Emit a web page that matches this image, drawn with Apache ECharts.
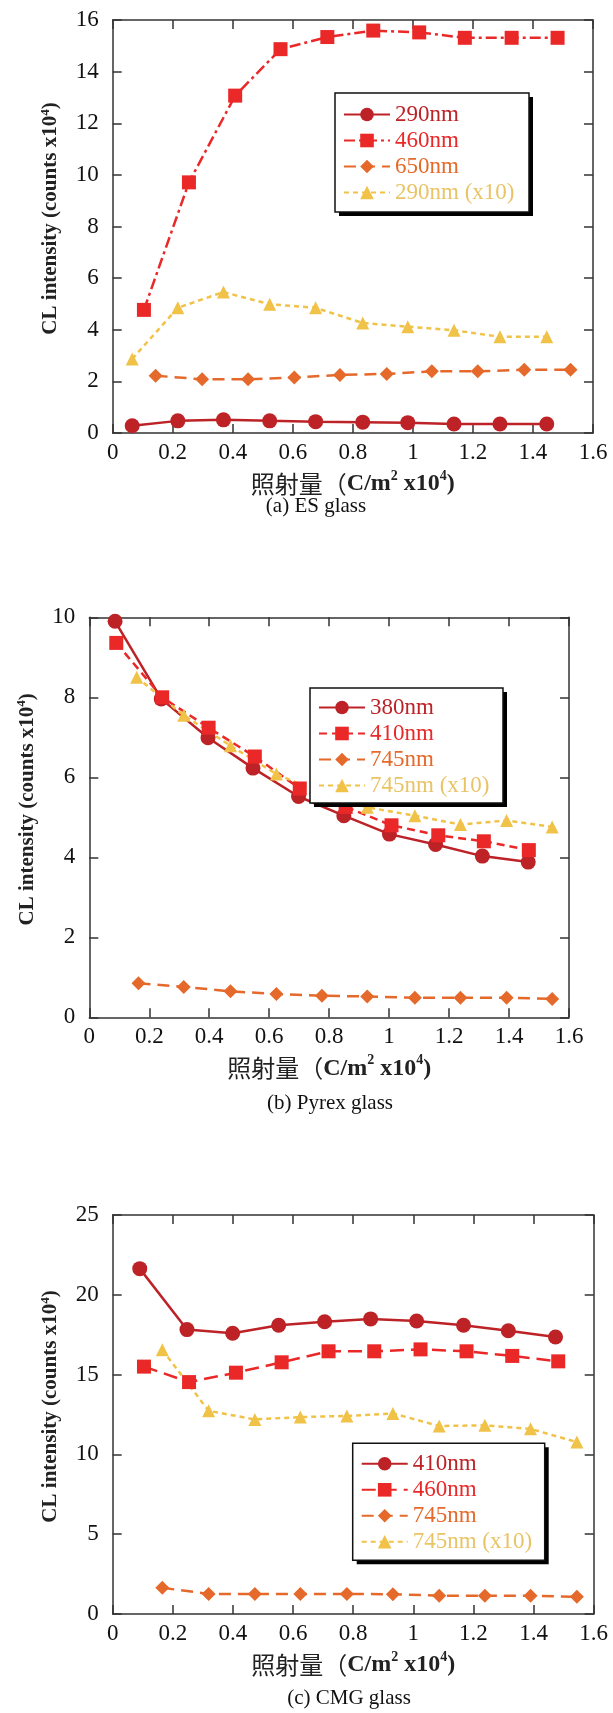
<!DOCTYPE html>
<html><head><meta charset="utf-8">
<script src="https://cdn.jsdelivr.net/npm/echarts@6/dist/echarts.min.js"></script>
<style>
html,body{margin:0;padding:0;background:#fff;}
.c{position:absolute;left:0;width:613px;}
#c1{top:0;height:560px}
#c2{top:560px;height:575px}
#c3{top:1135px;height:578px}
</style></head><body>
<div id="c1" class="c"></div><div id="c2" class="c"></div><div id="c3" class="c"></div>
<script>
// ---------- tick labels ----------
const xTickLabels = ['0','0.2','0.4','0.6','0.8','1','1.2','1.4','1.6'];
const esYTicks = ['0','2','4','6','8','10','12','14','16'];
const pyYTicks = ['0','2','4','6','8','10'];
const cmYTicks = ['0','5','10','15','20','25'];

// ---------- (a) ES glass ----------
const esNames = ['290nm','460nm','650nm','290nm (x10)'];
const es290_x = [0.065,0.217,0.369,0.523,0.676,0.833,0.983,1.137,1.290,1.446];
const es290_y = [0.28,0.47,0.51,0.47,0.44,0.42,0.40,0.35,0.35,0.35];
const es460_x = [0.104,0.254,0.408,0.559,0.715,0.868,1.021,1.173,1.329,1.482];
const es460_y = [4.77,9.71,13.07,14.87,15.34,15.59,15.52,15.31,15.31,15.31];
const es650_x = [0.143,0.298,0.451,0.605,0.757,0.913,1.063,1.216,1.371,1.525];
const es650_y = [2.22,2.08,2.08,2.15,2.25,2.29,2.39,2.39,2.45,2.45];
const es290x10_x = [0.065,0.217,0.369,0.523,0.676,0.833,0.983,1.137,1.290,1.446];
const es290x10_y = [2.87,4.85,5.46,4.99,4.85,4.26,4.12,3.98,3.73,3.73];

// ---------- (b) Pyrex glass ----------
const pyNames = ['380nm','410nm','745nm','745nm (x10)'];
const py380_x = [0.086,0.240,0.396,0.546,0.698,0.849,1.001,1.155,1.311,1.464];
const py380_y = [9.90,7.96,6.99,6.23,5.52,5.04,4.58,4.32,4.03,3.88];
const py410_x = [0.090,0.243,0.398,0.552,0.702,0.855,1.008,1.164,1.316,1.466];
const py410_y = [9.36,8.00,7.24,6.52,5.72,5.26,4.80,4.55,4.40,4.18];
const py745_x = [0.164,0.315,0.471,0.624,0.776,0.927,1.086,1.238,1.392,1.544];
const py745_y = [0.85,0.76,0.65,0.58,0.54,0.52,0.49,0.49,0.49,0.46];
const py745x10_x = [0.158,0.315,0.471,0.624,0.776,0.927,1.086,1.238,1.392,1.544];
const py745x10_y = [8.50,7.55,6.79,6.08,5.60,5.25,5.04,4.82,4.92,4.76];

// ---------- (c) CMG glass ----------
const cmNames = ['410nm','460nm','745nm','745nm (x10)'];
const cm410_x = [0.090,0.247,0.399,0.552,0.705,0.858,1.011,1.167,1.316,1.473];
const cm410_y = [21.64,17.82,17.59,18.09,18.31,18.49,18.36,18.09,17.75,17.36];
const cm460_x = [0.104,0.254,0.410,0.562,0.718,0.870,1.024,1.177,1.329,1.482];
const cm460_y = [15.50,14.53,15.12,15.77,16.46,16.46,16.58,16.46,16.17,15.83];
const cm745_x = [0.165,0.319,0.473,0.624,0.779,0.932,1.086,1.238,1.390,1.544];
const cm745_y = [1.64,1.26,1.26,1.26,1.26,1.24,1.15,1.15,1.15,1.08];
const cm745x10_x = [0.165,0.319,0.473,0.624,0.779,0.932,1.086,1.238,1.390,1.544];
const cm745x10_y = [16.55,12.73,12.19,12.34,12.41,12.57,11.78,11.82,11.60,10.77];

const captions = ['(a) ES glass','(b) Pyrex glass','(c) CMG glass'];

// ---------- styles ----------
const SERIF = '"Liberation Serif","DejaVu Serif",serif';
const CJK = '"Noto Sans CJK JP","Noto Sans CJK SC",sans-serif';
const AX = '#333';
const C_DARK = '#bd2227', C_RED = '#ea2828', C_ORG = '#e5692a', C_YEL = '#f0c248';
const T_YEL = '#e9c466';

function zip(xs, ys){ return xs.map((x,i)=>[x, ys[i]]); }

const xNameStr = '{c|照射量（}{l|C/m}{s|2}{l| x10}{s|4}{l|)}';
const yNameStr = '{l|CL intensity (counts x10}{s|4}{l|)}';

function build(cfg){
  const xCommon = {type:'value', min:0, max:1.6, interval:0.2, splitLine:{show:false},
    axisLine:{show:true, onZero:false, lineStyle:{color:AX, width:1.5}},
    axisTick:{show:true, inside:true, length:9, lineStyle:{color:AX, width:1.5}}};
  const yCommon = {type:'value', min:0, max:cfg.ymax, interval:cfg.yint, splitLine:{show:false},
    axisLine:{show:true, onZero:false, lineStyle:{color:AX, width:1.5}},
    axisTick:{show:true, inside:true, length:9, lineStyle:{color:AX, width:1.5}}};
  const b = cfg.box;
  return {
    animation:false,
    backgroundColor:'#fff',
    grid:{left:cfg.grid[0], top:cfg.grid[1], width:cfg.grid[2], height:cfg.grid[3]},
    xAxis:[
      Object.assign({}, xCommon, {position:'bottom',
        axisLabel:{fontFamily:SERIF, fontSize:23, color:'#111', margin:8,
          formatter:v=>xTickLabels[Math.round(v/0.2)]},
        name:xNameStr, nameLocation:'middle', nameGap:36,
        nameTextStyle:{rich:{
          c:{fontFamily:CJK, fontSize:24, color:'#222', lineHeight:30},
          l:{fontFamily:SERIF, fontSize:24, fontWeight:'bold', color:'#222', lineHeight:30},
          s:{fontFamily:SERIF, fontSize:14, fontWeight:'bold', color:'#222', verticalAlign:'top', lineHeight:30}
        }}}),
      Object.assign({}, xCommon, {position:'top', axisLabel:{show:false}})
    ],
    yAxis:[
      Object.assign({}, yCommon, {position:'left',
        axisLabel:{fontFamily:SERIF, fontSize:23, color:'#111', margin:14,
          formatter:v=>cfg.yticks[Math.round(v/cfg.yint)]},
        name:yNameStr, nameLocation:'middle', nameGap:50, nameRotate:90,
        nameTextStyle:{padding:[0,0,0,16], rich:{
          l:{fontFamily:SERIF, fontSize:21, fontWeight:'bold', color:'#222', lineHeight:24},
          s:{fontFamily:SERIF, fontSize:13, fontWeight:'bold', color:'#222', verticalAlign:'top', lineHeight:24}
        }}}),
      Object.assign({}, yCommon, {position:'right', axisLabel:{show:false}})
    ],
    legend:{
      orient:'vertical', left:b[0], top:b[1], z:10,
      itemWidth:46, itemHeight:17, itemGap:3,
      padding:cfg.legPad,
      backgroundColor:'transparent', borderWidth:0,
      textStyle:{fontFamily:SERIF, fontSize:23, lineHeight:23},
      data:cfg.series.map(s=>({name:s.name, textStyle:{color:s.tcolor||s.color}}))
    },
    series:cfg.series.map(s=>({
      type:'line', name:s.name, data:s.data, xAxisIndex:0, yAxisIndex:0,
      symbol:s.symbol, symbolSize:s.size, color:s.color,
      itemStyle:{color:s.color},
      lineStyle:{color:s.color, width:2.5, type:s.dash},
      z:2
    })),
    graphic:[
      {type:'rect', z:8, shape:{x:b[0]+4, y:b[1]+4, width:b[2], height:b[3]}, style:{fill:'#000'}},
      {type:'rect', z:9, shape:{x:b[0], y:b[1], width:b[2], height:b[3]}, style:{fill:'#fff', stroke:'#111', lineWidth:1.5}},
      {type:'text', z:9, x:cfg.cap[0], y:cfg.cap[1],
       style:{text:cfg.caption, fontFamily:SERIF, fontSize:21, fill:'#111', textAlign:'center', textVerticalAlign:'middle'}}
    ]
  };
}

const cfg1 = {grid:[112.7,20,480.3,413], ymax:16, yint:2, yticks:esYTicks,
  box:[335,93,194,119], legPad:[10,10,8,8], cap:[316,506], caption:captions[0],
  series:[
    {name:esNames[0], data:zip(es290_x,es290_y), symbol:'circle', size:15, color:C_DARK, dash:'solid'},
    {name:esNames[1], data:zip(es460_x,es460_y), symbol:'rect', size:14, color:C_RED, dash:[11,4,3,4]},
    {name:esNames[2], data:zip(es650_x,es650_y), symbol:'diamond', size:14, color:C_ORG, dash:[12,7]},
    {name:esNames[3], data:zip(es290x10_x,es290x10_y), symbol:'triangle', size:13, color:C_YEL, tcolor:T_YEL, dash:[5,4]}
  ]};
const cfg2 = {grid:[89.3,57.3,479.7,400], ymax:10, yint:2, yticks:pyYTicks,
  box:[310,128,193,115], legPad:[8,10,7,8], cap:[330,543], caption:captions[1],
  series:[
    {name:pyNames[0], data:zip(py380_x,py380_y), symbol:'circle', size:15, color:C_DARK, dash:'solid'},
    {name:pyNames[1], data:zip(py410_x,py410_y), symbol:'rect', size:14, color:C_RED, dash:[8,5]},
    {name:pyNames[2], data:zip(py745_x,py745_y), symbol:'diamond', size:14, color:C_ORG, dash:[12,7]},
    {name:pyNames[3], data:zip(py745x10_x,py745x10_y), symbol:'triangle', size:13, color:C_YEL, tcolor:T_YEL, dash:[5,4]}
  ]};
const cfg3 = {grid:[112.7,80,481,399], ymax:25, yint:5, yticks:cmYTicks,
  box:[352.7,308.3,192,117], legPad:[9,10,7,8], cap:[349,563], caption:captions[2],
  series:[
    {name:cmNames[0], data:zip(cm410_x,cm410_y), symbol:'circle', size:15, color:C_DARK, dash:'solid'},
    {name:cmNames[1], data:zip(cm460_x,cm460_y), symbol:'rect', size:14, color:C_RED, dash:[14,7]},
    {name:cmNames[2], data:zip(cm745_x,cm745_y), symbol:'diamond', size:14, color:C_ORG, dash:[12,7]},
    {name:cmNames[3], data:zip(cm745x10_x,cm745x10_y), symbol:'triangle', size:13, color:C_YEL, tcolor:T_YEL, dash:[5,4]}
  ]};

[['c1',cfg1],['c2',cfg2],['c3',cfg3]].forEach(([id,cfg])=>{
  const ch = echarts.init(document.getElementById(id), null, {renderer:'canvas'});
  ch.setOption(build(cfg));
});
</script>
</body></html>
